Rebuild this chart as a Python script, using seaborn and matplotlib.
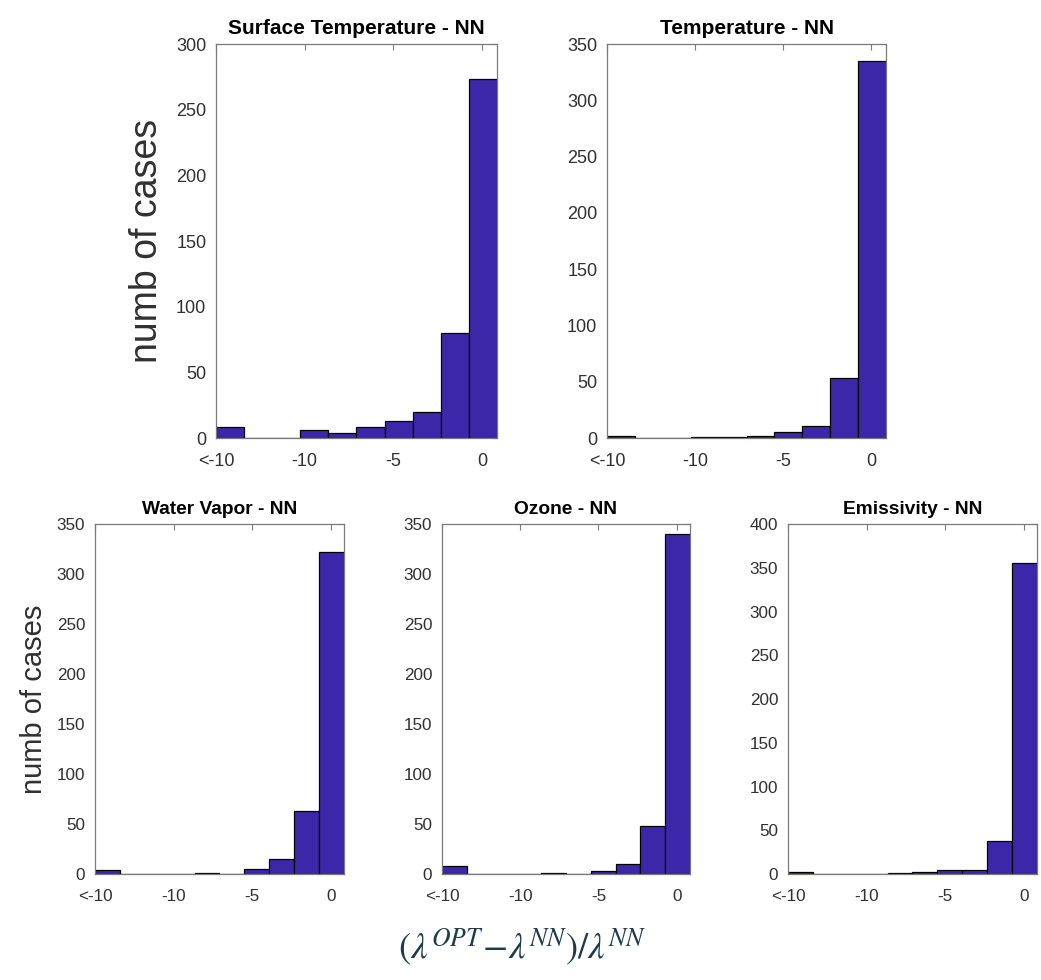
import numpy as np
import pandas as pd
import matplotlib
matplotlib.use("Agg")
import matplotlib.pyplot as plt
import seaborn as sns

sns.set_style("white")
plt.rcParams['font.family'] = ['Liberation Sans', 'DejaVu Sans']
plt.rcParams['mathtext.fontset'] = 'stix'

# ---- data ----
bin_lo, bin_hi, n_bins = -15.0, 0.85, 10
tick_pos = [-15, -10, -5, 0]
tick_labels = ['<-10', '-10', '-5', '0']

titles = ["Surface Temperature - NN", "Temperature - NN", "Water Vapor - NN",
          "Ozone - NN", "Emissivity - NN"]
surf_temp = [8, 0, 0, 6, 4, 8, 13, 20, 80, 273]
temperature = [2, 0, 0, 1, 1, 2, 5, 11, 53, 335]
water_vapor = [4, 0, 0, 0, 1, 0, 5, 15, 63, 322]
ozone = [8, 0, 0, 0, 1, 0, 3, 10, 48, 340]
emissivity = [2, 0, 0, 0, 1, 2, 5, 5, 38, 355]
y_max = [300, 350, 350, 350, 400]

series = [surf_temp, temperature, water_vapor, ozone, emissivity]

W, H = 1041, 980
fig = plt.figure(figsize=(W / 100, H / 100), dpi=100)

# pixel boxes (left, top, right, bottom)
boxes = [(216, 44, 497, 438), (607, 44, 886, 438),
         (95, 524, 344, 874), (442, 524, 690, 874), (788, 524, 1037, 874)]
title_size = [15, 15, 13.8, 13.8, 13.8]
tick_size = [13, 13, 12.3, 12.3, 12.3]

bar_color = '#3D27A9'
spine_color = '#7a7a7a'
text_color = '#303030'

bin_edges = np.linspace(bin_lo, bin_hi, n_bins + 1)
centers = (bin_edges[:-1] + bin_edges[1:]) / 2
axes = []
for i, (l, t, r, b) in enumerate(boxes):
    ax = fig.add_axes([l / W, (H - b) / H, (r - l) / W, (b - t) / H])
    df = pd.DataFrame({'value': centers, 'count': np.asarray(series[i], float)})
    sns.histplot(data=df, x='value', weights='count', bins=n_bins,
                 binrange=(bin_lo, bin_hi), ax=ax,
                 color=bar_color, edgecolor='black', linewidth=0.9, alpha=1.0)
    ax.set_xlim(bin_lo, bin_hi)
    ax.set_ylim(0, y_max[i])
    ax.set_yticks(np.arange(0, y_max[i] + 1, 50))
    ax.set_xticks(tick_pos)
    ax.set_xticklabels(tick_labels)
    ax.tick_params(direction='in', top=True, right=True, length=4, width=0.8,
                   color=spine_color, labelcolor=text_color,
                   labelsize=tick_size[i])
    ax.tick_params(axis='x', pad=11)
    ax.tick_params(axis='y', pad=7)
    for s in ax.spines.values():
        s.set_visible(True)
        s.set_color(spine_color)
        s.set_linewidth(0.9)
    ax.set_title(titles[i], fontsize=title_size[i], fontweight='bold',
                 color='black', pad=7)
    ax.set_xlabel('')
    ax.set_ylabel('')
    axes.append(ax)

axes[0].set_ylabel('numb of cases', fontsize=27, color=text_color, labelpad=8)
axes[2].set_ylabel('numb of cases', fontsize=21, color=text_color, labelpad=6)

fig.text(522 / W, 1 - 948 / H, r'$(\lambda^{OPT}\!-\!\lambda^{NN})/\lambda^{NN}$',
         ha='center', va='center', fontsize=26.5, color='#1E3A4C')

fig.savefig('out.png', dpi=100)
